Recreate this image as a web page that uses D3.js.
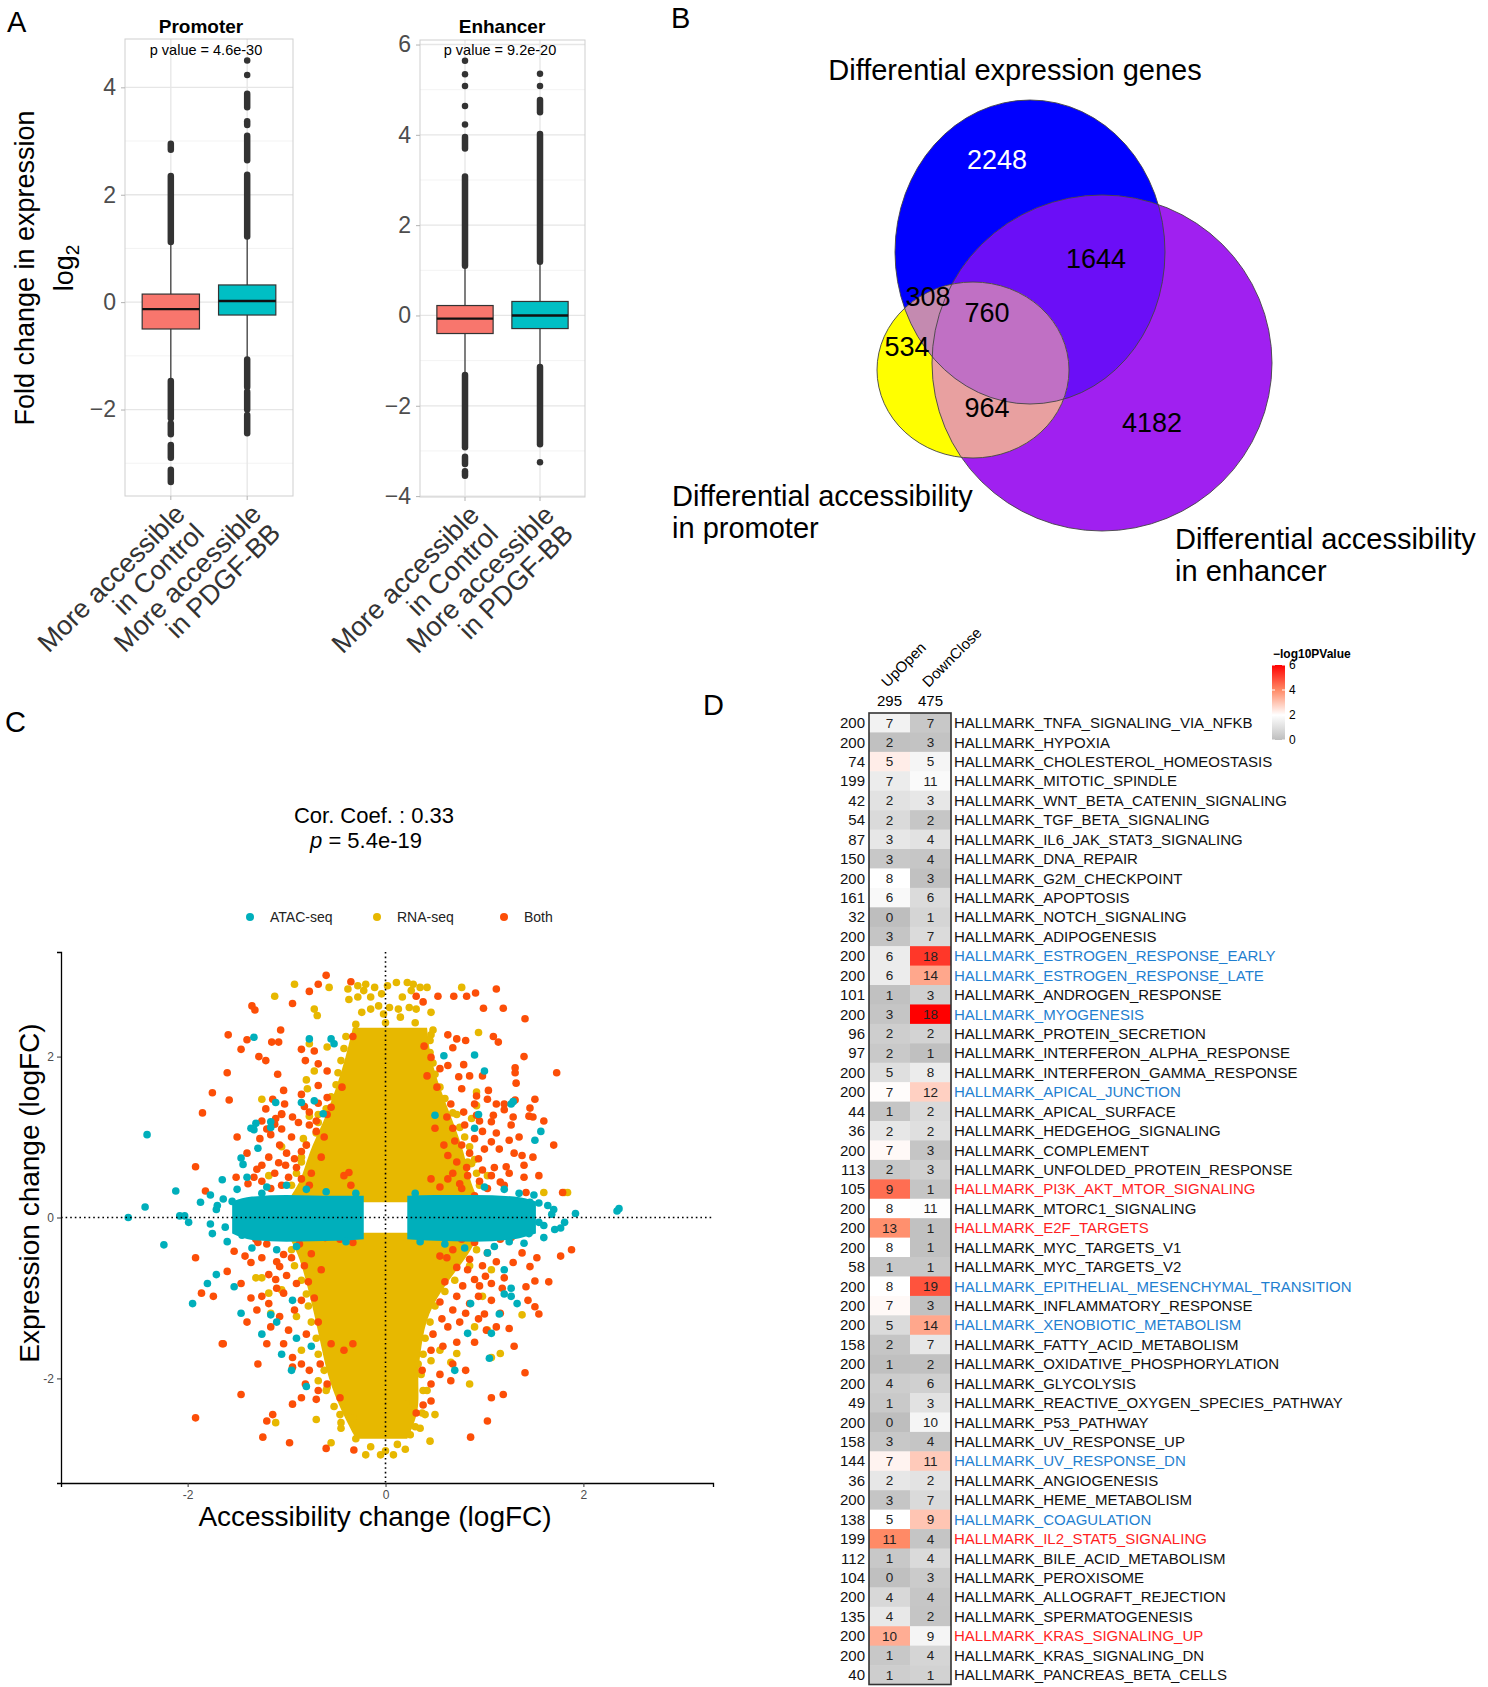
<!DOCTYPE html>
<html>
<head>
<meta charset="utf-8">
<script src="https://cdn.jsdelivr.net/npm/d3@7"></script>
<style>
  body { margin: 0; background: #fff; }
  svg { font-family: "Liberation Sans", Arial, sans-serif; }
</style>
</head>
<body>
<svg id="fig" width="1488" height="1687"></svg>
<script>
const FONT = '"Liberation Sans", Arial, sans-serif';
const svg = d3.select("#fig");

// ---------------- data: panel A (boxplots) ----------------
const boxGroups = ["More accessible\nin Control", "More accessible\nin PDGF-BB"];
const boxColors = ["#F8766D", "#00BFC4"];
// [whisker low, q1, median, q3, whisker high]
const promoterStats = [[-1.45, -0.50, -0.13, 0.15, 1.10], [-1.05, -0.24, 0.02, 0.32, 1.20]];
const enhancerStats = [[-1.30, -0.40, -0.07, 0.22, 1.08], [-1.12, -0.29, 0.00, 0.31, 1.17]];
// outliers as runs [from, to] of stacked dots (single dot when from == to)
const promoterOutliers = [
  [[1.12, 2.35], [2.84, 2.95], [-2.16, -1.47], [-2.46, -2.26], [-2.90, -2.66], [-3.35, -3.12]],
  [[1.22, 2.37], [2.64, 3.10], [3.30, 3.37], [3.63, 3.88], [4.23, 4.23], [4.50, 4.50], [-1.58, -1.07], [-2.00, -1.67], [-2.44, -2.10]]
];
const enhancerOutliers = [
  [[1.10, 3.08], [3.70, 3.95], [4.23, 4.23], [4.64, 4.64], [5.08, 5.08], [5.34, 5.34], [5.64, 5.64], [-2.92, -1.32], [-3.29, -3.13], [-3.55, -3.45]],
  [[1.19, 4.02], [4.50, 4.77], [5.08, 5.08], [5.35, 5.35], [-2.85, -1.14], [-3.25, -3.25]]
];

// ---------------- data: panel B (venn) ----------------
const vennNames = ["Differential expression genes", "Differential accessibility", "in promoter", "Differential accessibility", "in enhancer"];
const vennCounts = { exprOnly: 2248, exprEnh: 1644, exprProm: 308, all3: 760, promOnly: 534, promEnh: 964, enhOnly: 4182 };

// ---------------- data: panel C (scatter) ----------------
const corText = "Cor. Coef. : 0.33";
const pText = "5.4e-19";
// dense RNA-seq core, upper and lower halves: y, left x, right x
const rnaUpY     = [0.19, 0.45, 0.8, 1.2, 1.6, 2.0, 2.36];
const rnaUpLeft  = [-1.0, -0.85, -0.78, -0.62, -0.5, -0.4, -0.33];
const rnaUpRight = [0.95, 0.85, 0.8, 0.68, 0.55, 0.45, 0.42];
const rnaLoY     = [-0.19, -0.45, -0.8, -1.2, -1.6, -2.0, -2.4, -2.75];
const rnaLoLeft  = [-1.0, -0.88, -0.8, -0.72, -0.65, -0.58, -0.45, -0.3];
const rnaLoRight = [0.95, 0.85, 0.62, 0.42, 0.36, 0.32, 0.35, 0.22];
// dense ATAC-seq band: x, top y, bottom y
const atacLeftX   = [-1.55, -1.35, -1.0, -0.5, -0.22];
const atacLeftTop = [0.2, 0.26, 0.28, 0.27, 0.27];
const atacLeftBot = [-0.2, -0.28, -0.3, -0.29, -0.27];
const atacRightX   = [0.22, 0.5, 0.9, 1.3, 1.52];
const atacRightTop = [0.27, 0.28, 0.28, 0.26, 0.2];
const atacRightBot = [-0.27, -0.29, -0.3, -0.27, -0.2];
// scattered points [x, y]
const atacPts = [[-2.6,0],[-2.41,1.03],[-2.43,0.13],[-2.24,-0.34],[-2.12,0.33],[-2.08,0.02],[-2.03,0.02],[-1.99,-0.06],
  [-1.95,-1.07],[-1.87,0.19],[-1.77,0.28],[-1.77,-0.08],[-1.71,0.1],[-1.65,0.47],[-1.64,0.23],[-1.46,0.74],[-1.44,0.66],
  [-1.29,0.86],[-1.4,0.5],[-1.8,-0.82],[-1.71,-0.71],[-1.46,-1.19],[-1.53,-0.86],[-1.36,1.11],[-1.31,1.17],[-1.16,1.19],
  [-1.16,-1.21],[-0.94,-1.03],[1.51,0.96],[1.57,1.07],[1.46,0.19],[1.64,0.15],[1.71,-0.15],[1.77,-0.13],[1.81,-0.06],
  [1.92,0.05],[2.36,0.11],[2.34,0.08],[1.27,-0.98],[1.27,-0.88],[1.33,-1.07],[1.2,-0.65],[1.03,-0.44],[0.9,1.11],[0.94,1.28],
  [0.83,-1.44],[1.07,-1.44],[1.68,0.04],[1.55,-0.06],[-1.33,2.24],[-0.77,2.22],[-0.55,2.22],[-0.52,2.16],[0.59,2.01],
  [0.9,2.02],[1.0,1.82],[1.29,1.44],[1.27,1.41],[-1.11,1.43],[-0.85,1.43],[-0.72,1.45],[-0.63,1.29],[0.5,1.27],[-1.33,1.09],
  [-1.16,1.12],[-1.1,-1.3],[-0.9,-1.5],[-0.75,-1.6],[-1.25,-1.45],[-0.8,-2.1],[-0.95,-1.9],[-1.05,-1.7],[0.86,-1.07],
  [1.15,-1.2],[1.05,-1.75],[1.2,-0.95],[0.7,-1.9],[-1.5,0.35],[-1.2,0.38],[-1.0,0.4],[-0.8,0.35],[-1.35,-0.38],[-1.1,-0.4],
  [-0.9,-0.36],[1.0,0.38],[1.2,0.35],[1.35,0.3],[0.8,-0.38],[1.1,-0.36],[1.4,-0.32],[1.5,0.28],[-1.6,-0.3],[1.6,-0.25],
  [-1.7,0.15],[-1.62,-0.12],[-1.55,0.2],[-1.45,-0.22],[-0.3,0.3],[-0.4,-0.3],[1.55,0.18],[1.6,-0.1],[1.45,-0.2],[0.3,0.3],
  [0.35,-0.3],[-1.75,-0.2],[1.7,0.1],[-0.6,0.32],[0.6,-0.33],[-1.25,0.3],[1.25,-0.3]];
const rnaPts = [[-0.92,2.9],[-1.12,2.75],[-0.57,2.86],[-0.72,2.59],[-0.69,2.51],[-0.38,2.84],[-0.28,2.88],[-0.2,2.9],
  [-0.22,2.82],[-0.11,2.86],[-0.04,2.78],[0.02,2.88],[0.11,2.92],[0.22,2.92],[0.28,2.9],[0.35,2.86],[0.42,2.86],[0.26,2.82],
  [0.17,2.74],[-0.15,2.74],[-0.28,2.74],[-0.37,2.71],[-0.07,2.63],[0.04,2.61],[0.13,2.59],[0.24,2.61],[0.31,2.59],[0.46,2.55],
  [0.77,2.86],[-0.24,2.55],[-0.15,2.59],[-0.02,2.53],[0.15,2.49],[0.94,2.3],[0.46,2.27],[-0.77,2.16],[-0.59,2.12],[-0.72,1.82],
  [-0.8,1.71],[-0.79,1.6],[-1.25,1.47],[0.92,1.56],[0.92,1.39],[-1.18,0.52],[-1.05,0.88],[-0.83,0.98],[-0.77,1.26],
  [-0.68,1.28],[-0.85,0.69],[0.87,0.67],[1.03,0.52],[0.83,0.69],[1.6,0.31],[1.81,0.31],[1.84,0.31],[0.72,1.28],[0.87,1.23],
  [0.68,0.98],[1.07,-0.65],[0.98,-0.98],[1.38,-1.21],[0.9,-1.36],[1.03,-1.4],[1.16,-1.69],[1.07,-1.74],[0.72,-1.69],
  [0.85,-2.07],[0.66,-1.8],[0.46,-1.78],[0.33,-1.82],[0.55,-1.65],[0.42,-2.15],[0.37,-2.43],[0.2,-2.32],[0.28,-2.3],
  [0.5,-2.45],[-0.59,-2.11],[-0.68,-2.03],[-0.42,-2.32],[-0.46,-2.45],[-0.33,-2.49],[-0.7,-2.51],[-1.11,-2.55],[-1.16,-1.19],
  [-1.18,-0.94],[-1.25,-0.75],[-0.9,-1.23],[-0.85,-1.65],[-1.05,-0.9],[-0.79,-0.44],[-1.31,-0.75],[-0.15,-2.85],[0.0,-2.9],
  [0.12,-2.82],[-0.3,-2.75],[0.25,-2.7],[-0.05,-2.95],[0.08,-2.95],[-0.45,-2.62],[0.35,-2.62],[-0.2,-2.95],[0.2,-2.88],
  [-0.55,-2.8],[0.45,-2.78],
  [-0.95,0.4],[-0.9,0.55],[-0.85,0.75],[-0.8,0.9],[-0.7,1.05],[-0.68,1.18],[-0.6,1.35],[-0.55,1.5],[-0.5,1.65],[-0.48,1.8],
  [-0.45,1.95],[-0.42,2.1],[-0.4,2.25],[0.95,0.4],[0.92,0.55],[0.9,0.72],[0.85,0.88],[0.8,1.0],[0.75,1.12],[0.68,1.3],
  [0.6,1.48],[0.55,1.62],[0.5,1.78],[0.48,1.92],[0.45,2.05],[0.45,2.2],[0.48,2.33],[-0.3,2.4],[0.0,2.42],[0.3,2.42],
  [-0.95,-0.4],[-0.92,-0.6],[-0.85,-0.78],[-0.8,-0.95],[-0.78,-1.1],[-0.75,-1.3],[-0.7,-1.5],[-0.68,-1.7],[-0.62,-1.9],
  [-0.6,-2.15],[-0.52,-2.35],[-0.45,-2.55],[0.92,-0.4],[0.85,-0.6],[0.7,-0.78],[0.6,-0.92],[0.5,-1.1],[0.45,-1.3],
  [0.4,-1.5],[0.38,-1.7],[0.36,-1.95],[0.38,-2.15],[0.4,-2.45],[0.3,-2.6]];
const bothPts = [[-0.68,2.9],[-0.77,2.81],[-0.94,2.66],[-1.32,2.58],[0.31,2.75],[0.38,2.68],[0.53,2.75],[0.69,2.75],
  [0.82,2.75],[0.91,2.79],[1.12,2.84],[0.99,2.6],[-1.4,2.21],[-1.46,2.09],[-1.15,2.18],[-1.08,2.18],[-1.21,1.95],[-1.09,1.78],
  [-0.85,2.09],[-0.72,2.07],[-0.81,1.95],[-0.68,1.91],[-0.59,1.82],[-0.33,2.25],[0.39,2.13],[0.63,2.27],[0.72,2.22],[0.81,2.2],
  [0.68,2.11],[1.09,2.25],[1.14,2.18],[1.4,2.0],[1.31,1.86],[1.31,1.8],[0.79,1.9],[0.46,1.99],[0.63,1.89],[0.55,1.85],
  [0.74,1.75],[0.85,1.76],[0.98,1.76],[0.42,1.76],[0.52,1.62],[0.77,1.6],[0.92,1.51],[1.03,1.47],[1.12,1.41],[1.2,1.41],
  [1.04,1.58],[0.9,1.41],[0.66,1.41],[0.79,1.31],[0.92,1.27],[1.09,1.27],[1.45,1.26],[1.49,1.25],[1.29,1.25],[-1.58,1.46],
  [-1.14,1.47],[-1.03,1.58],[-1.02,1.41],[-1.21,1.35],[-1.25,1.2],[-1.05,1.29],[-0.94,1.25],[-0.85,1.53],[-0.68,1.64],
  [-0.59,1.49],[-0.44,1.62],[-0.55,1.37],[-0.77,1.31],[-1.12,1.16],[-1.05,1.1],[-1.92,0.63],[-1.82,0.33],[-1.92,-0.5],
  [-1.86,-0.94],[-1.74,-0.98],[-1.65,-1.57],[-1.92,-2.49],[-1.51,0.5],[-1.39,0.42],[-1.33,0.5],[-1.25,0.65],[-1.27,0.98],
  [-1.11,1.23],[-1.05,1.28],[-1.16,1.03],[-1.07,0.9],[-1.01,0.65],[-0.92,0.73],[-0.85,0.82],[-0.77,1.15],[-0.7,1.07],
  [-0.59,1.28],[-0.85,0.48],[-0.77,0.4],[-0.42,0.52],[-0.35,0.4],[-0.37,0.56],[-1.16,0.36],[-1.05,0.4],[-1.53,-0.42],
  [-1.42,-0.48],[-1.31,-0.27],[-1.2,-0.33],[-1.29,-0.31],[-1.36,-0.56],[-1.6,-0.67],[-1.46,-0.82],[-1.36,-1.0],[-1.18,-0.71],
  [-1.07,-0.61],[-1.11,-0.77],[-1.03,-0.46],[-0.87,-0.33],[-0.77,-0.23],[-0.61,-0.25],[-0.46,-0.27],[-0.33,-0.31],[-1.25,-0.98],
  [-1.18,-1.07],[-1.03,-0.94],[-0.9,-0.82],[-0.85,-1.03],[-1.07,-1.23],[-1.16,-1.36],[-1.2,-1.57],[-1.03,-1.57],[-0.94,-1.74],
  [-0.85,-1.82],[-0.77,-1.9],[-0.66,-1.82],[-0.55,-1.57],[-0.42,-1.65],[-0.33,-1.57],[-0.94,-1.86],[-1.29,-1.82],[-0.81,-2.07],
  [-0.68,-2.15],[-0.59,-2.07],[-0.94,-2.32],[-0.85,-2.24],[-1.2,-2.53],[-1.14,-2.45],[-0.7,-2.26],[-0.46,-2.24],[-1.64,-1.57],
  [0.55,-0.48],[0.68,-0.4],[0.77,-0.27],[0.9,-0.31],[1.03,-0.44],[1.16,-0.27],[1.27,-0.25],[1.38,-0.44],[1.53,-0.5],
  [1.77,-0.48],[1.88,-0.4],[1.29,-0.56],[1.46,-0.61],[1.51,-0.79],[1.42,-0.86],[1.44,-1.03],[1.51,-1.11],[1.18,-0.88],
  [1.07,-0.82],[1.01,-0.73],[0.9,-0.77],[0.83,-0.65],[0.72,-0.98],[0.85,-1.07],[0.94,-0.98],[1.07,-1.03],[1.16,-1.19],
  [1.25,-1.38],[1.12,-1.36],[0.94,-1.26],[0.81,-1.19],[0.68,-1.15],[0.63,-1.36],[0.72,-1.55],[0.57,-1.26],[0.46,-1.65],
  [0.68,-1.82],[0.55,-1.95],[0.46,-2.07],[0.81,-1.9],[0.66,-2.03],[0.37,-1.9],[1.07,-2.24],[0.46,-2.28],[0.31,-2.43],
  [0.46,0.48],[0.63,0.77],[0.77,0.9],[0.9,0.98],[0.98,1.07],[1.07,1.19],[1.2,1.34],[1.31,1.46],[1.46,1.36],[1.27,1.15],
  [1.25,0.96],[1.07,0.94],[0.94,0.73],[0.98,0.59],[1.07,0.52],[1.16,0.44],[1.22,0.63],[1.38,0.77],[1.49,0.75],[1.4,0.5],
  [1.55,0.52],[1.42,0.31],[1.79,0.31],[0.83,0.52],[0.72,0.69],[0.63,0.48],[0.55,0.38],[0.77,0.36],[0.9,0.27],[1.03,0.36],
  [0.68,1.11],[0.5,1.11],[0.59,0.9],[-1.35,2.63],[-1.59,2.27],[-1.28,2.0],[-1.06,2.33],[-1.6,1.8],[-1.75,1.55],[-1.85,1.3],
  [1.41,2.47],[1.19,2.6],[1.73,1.8],[1.51,1.47],[1.32,1.67],[1.6,1.2],[1.7,0.9],[1.41,-1.93],[1.19,-2.2],[1.03,-2.53],
  [0.86,-2.73],[1.3,-1.6],[1.55,-1.2],[1.65,-0.8],[-1.46,-2.2],[-1.24,-2.73],[-0.97,-2.8],[-0.6,-2.87],[-0.32,-2.89],
  [-0.6,3.01],[-0.35,2.93],[0.38,-2.33],
  [-1.25,0.45],[-1.12,0.55],[-0.98,0.5],[-0.9,0.62],[-1.18,0.75],[-1.0,0.8],[-0.8,0.9],[-0.95,1.0],[-1.2,1.1],[-0.88,1.18],
  [-0.7,1.2],[-1.3,0.6],[-0.75,0.55],[-0.65,0.75],[-1.08,0.68],[-1.4,0.8],[-1.5,1.0],[-0.62,1.0],[-0.82,1.38],[-0.68,1.42],
  [0.68,0.55],[0.82,0.62],[0.95,0.45],[1.1,0.62],[1.25,0.55],[1.3,0.8],[1.15,0.85],[0.85,0.8],[0.7,0.95],[1.0,0.85],
  [1.12,1.05],[0.8,1.15],[1.35,1.0],[0.95,1.2],[0.62,1.25],[1.4,0.65],[0.75,0.42],[1.2,0.4],
  [-1.25,-0.5],[-1.1,-0.55],[-0.95,-0.5],[-0.82,-0.6],[-1.0,-0.72],[-0.78,-0.8],[-0.92,-1.15],[-1.1,-0.88],[-0.72,-1.0],
  [-0.68,-1.3],[-0.98,-1.4],[-0.8,-1.45],[-1.3,-1.15],[-1.4,-1.3],[-0.75,-0.45],[-0.65,-0.65],
  [0.62,-0.5],[0.72,-0.62],[0.85,-0.52],[0.98,-0.6],[1.12,-0.55],[1.2,-0.75],[0.95,-0.85],[0.78,-0.85],[0.6,-0.8],
  [0.55,-1.05],[0.75,-1.3],[1.0,-1.2],[0.48,-1.45],[0.9,-1.55],[1.02,-1.4],[0.58,-1.6]];

// ---------------- data: panel D (heatmap) ----------------
const hmSets = ["HALLMARK_TNFA_SIGNALING_VIA_NFKB","HALLMARK_HYPOXIA","HALLMARK_CHOLESTEROL_HOMEOSTASIS","HALLMARK_MITOTIC_SPINDLE",
  "HALLMARK_WNT_BETA_CATENIN_SIGNALING","HALLMARK_TGF_BETA_SIGNALING","HALLMARK_IL6_JAK_STAT3_SIGNALING","HALLMARK_DNA_REPAIR",
  "HALLMARK_G2M_CHECKPOINT","HALLMARK_APOPTOSIS","HALLMARK_NOTCH_SIGNALING","HALLMARK_ADIPOGENESIS","HALLMARK_ESTROGEN_RESPONSE_EARLY",
  "HALLMARK_ESTROGEN_RESPONSE_LATE","HALLMARK_ANDROGEN_RESPONSE","HALLMARK_MYOGENESIS","HALLMARK_PROTEIN_SECRETION",
  "HALLMARK_INTERFERON_ALPHA_RESPONSE","HALLMARK_INTERFERON_GAMMA_RESPONSE","HALLMARK_APICAL_JUNCTION","HALLMARK_APICAL_SURFACE",
  "HALLMARK_HEDGEHOG_SIGNALING","HALLMARK_COMPLEMENT","HALLMARK_UNFOLDED_PROTEIN_RESPONSE","HALLMARK_PI3K_AKT_MTOR_SIGNALING",
  "HALLMARK_MTORC1_SIGNALING","HALLMARK_E2F_TARGETS","HALLMARK_MYC_TARGETS_V1","HALLMARK_MYC_TARGETS_V2",
  "HALLMARK_EPITHELIAL_MESENCHYMAL_TRANSITION","HALLMARK_INFLAMMATORY_RESPONSE","HALLMARK_XENOBIOTIC_METABOLISM",
  "HALLMARK_FATTY_ACID_METABOLISM","HALLMARK_OXIDATIVE_PHOSPHORYLATION","HALLMARK_GLYCOLYSIS","HALLMARK_REACTIVE_OXYGEN_SPECIES_PATHWAY",
  "HALLMARK_P53_PATHWAY","HALLMARK_UV_RESPONSE_UP","HALLMARK_UV_RESPONSE_DN","HALLMARK_ANGIOGENESIS","HALLMARK_HEME_METABOLISM",
  "HALLMARK_COAGULATION","HALLMARK_IL2_STAT5_SIGNALING","HALLMARK_BILE_ACID_METABOLISM","HALLMARK_PEROXISOME",
  "HALLMARK_ALLOGRAFT_REJECTION","HALLMARK_SPERMATOGENESIS","HALLMARK_KRAS_SIGNALING_UP","HALLMARK_KRAS_SIGNALING_DN",
  "HALLMARK_PANCREAS_BETA_CELLS"];
const hmSetSize = [200,200,74,199,42,54,87,150,200,161,32,200,200,200,101,200,96,97,200,200,44,36,200,113,105,200,200,200,58,200,
  200,200,158,200,200,49,200,158,144,36,200,138,199,112,104,200,135,200,200,40];
const hmColumns = ["UpOpen", "DownClose"];
const hmColumnTotals = [295, 475];
const upOpenN = [7,2,5,7,2,2,3,3,8,6,0,3,6,6,1,3,2,2,5,7,1,2,7,2,9,8,13,8,1,8,7,5,2,1,4,1,0,3,7,2,3,5,11,1,0,4,4,10,1,1];
const downCloseN = [7,3,5,11,3,2,4,4,3,6,1,7,18,14,3,18,2,1,8,12,2,2,3,3,1,11,1,1,1,19,3,14,7,2,6,3,10,4,11,2,7,9,4,4,3,4,2,9,4,1];
// -log10 p-values
const upOpenP = [1.6,0.1,2.3,1.4,1.1,0.85,1.25,0.3,2.0,1.8,0,0.2,1.4,1.4,0.1,0.2,0.5,0.35,1.0,2.05,0.2,1.25,2.1,0.3,4.4,2.0,3.9,2.0,
  0.3,2.0,2.1,0.9,0.2,0.05,0.45,0.35,0,0.3,2.2,1.25,0.2,2.0,4.0,0.3,0.05,0.8,1.3,3.4,0.3,0.5];
const downCloseP = [0.3,0.15,1.7,1.85,1.25,0.25,1.1,0.25,0.1,0.9,0.7,0.9,5.2,3.5,0.55,6.0,0.65,0.05,1.4,2.8,0.85,1.0,0.2,0.55,0.2,
  1.95,0.1,0.1,0.3,4.8,0.1,3.5,1.25,0.1,0.55,1.1,1.7,0.2,2.9,1.15,0.85,3.0,0.2,0.85,0.4,0.25,0.2,1.7,0.7,0.6];
const blueSets = ["HALLMARK_ESTROGEN_RESPONSE_EARLY","HALLMARK_ESTROGEN_RESPONSE_LATE","HALLMARK_MYOGENESIS","HALLMARK_APICAL_JUNCTION",
  "HALLMARK_EPITHELIAL_MESENCHYMAL_TRANSITION","HALLMARK_XENOBIOTIC_METABOLISM","HALLMARK_UV_RESPONSE_DN","HALLMARK_COAGULATION"];
const redSets = ["HALLMARK_PI3K_AKT_MTOR_SIGNALING","HALLMARK_E2F_TARGETS","HALLMARK_IL2_STAT5_SIGNALING","HALLMARK_KRAS_SIGNALING_UP"];
const legendTicks = [0, 2, 4, 6];

// ---------------- panel letters ----------------
[["A", 7, 32], ["B", 671, 28], ["C", 5, 732], ["D", 703, 715]].forEach(d => {
  svg.append("text").attr("x", d[1]).attr("y", d[2]).attr("font-size", 29).text(d[0]);
});

// ---------------- Panel A ----------------
function drawBoxPanel(p) {
  const g = svg.append("g");
  const y = d3.scaleLinear().domain(p.domain).range([p.bottom, p.top]);
  const x = d3.scaleLinear().domain([0.4, 2.6]).range([p.left, p.right]);
  const bw = x(1.75) - x(1);   // box width 0.75 of a category

  // grid
  g.selectAll(".minor").data(p.minor).enter().append("line")
    .attr("x1", p.left).attr("x2", p.right).attr("y1", d => y(d)).attr("y2", d => y(d))
    .attr("stroke", "#F3F3F3").attr("stroke-width", 1);
  g.selectAll(".major").data(p.ticks).enter().append("line")
    .attr("x1", p.left).attr("x2", p.right).attr("y1", d => y(d)).attr("y2", d => y(d))
    .attr("stroke", "#E6E6E6").attr("stroke-width", 1.3);
  g.selectAll(".vgrid").data([1, 2]).enter().append("line")
    .attr("x1", d => x(d)).attr("x2", d => x(d)).attr("y1", p.top).attr("y2", p.bottom)
    .attr("stroke", "#E6E6E6").attr("stroke-width", 1.3);
  g.append("rect").attr("x", p.left).attr("y", p.top)
    .attr("width", p.right - p.left).attr("height", p.bottom - p.top)
    .attr("fill", "none").attr("stroke", "#CFCFCF").attr("stroke-width", 1);

  p.stats.forEach((s, i) => {
    const cx = x(i + 1);
    g.append("line").attr("x1", cx).attr("x2", cx).attr("y1", y(s[0])).attr("y2", y(s[4]))
      .attr("stroke", "#333").attr("stroke-width", 1.2);
    // outliers
    g.selectAll(".out" + i).data(p.outliers[i]).enter().append("line")
      .attr("x1", cx).attr("x2", cx).attr("y1", d => y(d[0])).attr("y2", d => y(d[1]))
      .attr("stroke", "#333").attr("stroke-width", 6.5).attr("stroke-linecap", "round");
    g.append("rect").attr("x", cx - bw / 2).attr("width", bw)
      .attr("y", y(s[3])).attr("height", y(s[1]) - y(s[3]))
      .attr("fill", boxColors[i]).attr("stroke", "#333").attr("stroke-width", 1.2);
    g.append("line").attr("x1", cx - bw / 2).attr("x2", cx + bw / 2).attr("y1", y(s[2])).attr("y2", y(s[2]))
      .attr("stroke", "#111").attr("stroke-width", 2.4);

    // x tick + label
    g.append("line").attr("x1", cx).attr("x2", cx).attr("y1", p.bottom).attr("y2", p.bottom + 4)
      .attr("stroke", "#B3B3B3");
    const lab = g.append("text")
      .attr("transform", `translate(${cx + 2},${p.bottom + 6}) rotate(-45)`)
      .attr("text-anchor", "end").attr("font-size", 27).attr("fill", "#333");
    boxGroups[i].split("\n").forEach((t, k) => {
      lab.append("tspan").attr("x", 0).attr("dy", k === 0 ? "0.72em" : "1.0em").text(t);
    });
  });

  const ax = g.append("g").attr("transform", `translate(${p.left},0)`)
    .call(d3.axisLeft(y).tickValues(p.ticks).tickSize(4).tickPadding(5));
  ax.select(".domain").remove();
  ax.selectAll("line").attr("stroke", "#B3B3B3");
  ax.selectAll("text").attr("font-size", 23).attr("fill", "#4D4D4D").attr("font-family", FONT);

  g.append("text").attr("x", p.titleX).attr("y", 33).attr("text-anchor", "middle")
    .attr("font-size", 19).attr("font-weight", "bold").text(p.title);
  g.append("text").attr("x", p.pX).attr("y", 55).attr("text-anchor", "middle")
    .attr("font-size", 14.5).text(p.pLabel);
}

drawBoxPanel({
  title: "Promoter", pLabel: "p value = 4.6e-30", titleX: 201, pX: 206,
  left: 125, right: 293, top: 39, bottom: 496, domain: [-3.61, 4.90],
  ticks: [-2, 0, 2, 4], minor: [-3, -1, 1, 3],
  stats: promoterStats, outliers: promoterOutliers
});
drawBoxPanel({
  title: "Enhancer", pLabel: "p value = 9.2e-20", titleX: 502, pX: 500,
  left: 420, right: 585, top: 40, bottom: 497, domain: [-4.02, 6.10],
  ticks: [-4, -2, 0, 2, 4, 6], minor: [-3, -1, 1, 3, 5],
  stats: enhancerStats, outliers: enhancerOutliers
});

// y axis title of panel A
const yTitleA = svg.append("text").attr("transform", "translate(34,268) rotate(-90)")
  .attr("text-anchor", "middle").attr("font-size", 27);
yTitleA.append("tspan").attr("x", 0).attr("dy", 0).text("Fold change in expression");
const logLine = yTitleA.append("tspan").attr("x", 0).attr("dy", "1.45em").text("log");
logLine.append("tspan").attr("font-size", 19).attr("dy", "0.3em").text("2");

// ---------------- Panel B (venn) ----------------
const venn = svg.append("g");
const ellBlue = { cx: 1030, cy: 252, rx: 135, ry: 152 };
const ellPurple = { cx: 1102, cy: 363, rx: 170, ry: 168 };
const ellYellow = { cx: 973, cy: 370, rx: 96, ry: 88 };
const defs = svg.append("defs");
[["clipBlue", ellBlue], ["clipPurple", ellPurple]].forEach(([id, e]) => {
  defs.append("clipPath").attr("id", id).append("ellipse")
    .attr("cx", e.cx).attr("cy", e.cy).attr("rx", e.rx).attr("ry", e.ry);
});
function ell(parent, e, fill, clip) {
  const el = parent.append("ellipse").attr("cx", e.cx).attr("cy", e.cy).attr("rx", e.rx).attr("ry", e.ry)
    .attr("fill", fill);
  if (clip) el.attr("clip-path", `url(#${clip})`);
  return el;
}
ell(venn, ellBlue, "#0000FF");
ell(venn, ellPurple, "#A020F0");
ell(venn, ellPurple, "#6B0EF7", "clipBlue");
ell(venn, ellYellow, "#FFFF00");
ell(venn, ellYellow, "#C48AB0", "clipBlue");
ell(venn, ellYellow, "#E8A0A0", "clipPurple");
ell(venn.append("g").attr("clip-path", "url(#clipBlue)"), ellYellow, "#C070C4", "clipPurple");
[ellBlue, ellPurple, ellYellow].forEach(e => ell(venn, e, "none").attr("stroke", "#444").attr("stroke-width", 0.9));

const vennLabels = [
  [vennCounts.exprOnly, 997, 159, "#fff"], [vennCounts.exprEnh, 1096, 258, "#000"],
  [vennCounts.exprProm, 928, 296, "#000"], [vennCounts.all3, 987, 312, "#000"],
  [vennCounts.promOnly, 907, 346, "#000"], [vennCounts.promEnh, 987, 407, "#000"],
  [vennCounts.enhOnly, 1152, 422, "#000"]
];
venn.selectAll(".vn").data(vennLabels).enter().append("text")
  .attr("x", d => d[1]).attr("y", d => d[2]).attr("dy", "0.36em").attr("text-anchor", "middle")
  .attr("font-size", 27).attr("fill", d => d[3]).text(d => d[0]);
venn.append("text").attr("x", 1015).attr("y", 80).attr("text-anchor", "middle").attr("font-size", 29).text(vennNames[0]);
venn.append("text").attr("x", 672).attr("y", 506).attr("font-size", 29).text(vennNames[1]);
venn.append("text").attr("x", 672).attr("y", 538).attr("font-size", 29).text(vennNames[2]);
venn.append("text").attr("x", 1175).attr("y", 549).attr("font-size", 29).text(vennNames[3]);
venn.append("text").attr("x", 1175).attr("y", 581).attr("font-size", 29).text(vennNames[4]);

// ---------------- Panel C (scatter) ----------------
const colAtac = "#00AFBB", colRna = "#E7B800", colBoth = "#FC4E07";
const xC = d3.scaleLinear().domain([-3.28, 3.31]).range([61, 713]);
const yC = d3.scaleLinear().domain([-3.3, 3.3]).range([1483, 952]);
const gC = svg.append("g");
const R = 3.8;

gC.append("text").attr("x", 374).attr("y", 823).attr("text-anchor", "middle").attr("font-size", 22).text(corText);
const pLine = gC.append("text").attr("x", 366).attr("y", 848).attr("text-anchor", "middle").attr("font-size", 22);
pLine.append("tspan").attr("font-style", "italic").text("p");
pLine.append("tspan").text(" = " + pText);

const legendItems = [["ATAC-seq", colAtac, 250], ["RNA-seq", colRna, 377], ["Both", colBoth, 504]];
legendItems.forEach(d => {
  gC.append("circle").attr("cx", d[2]).attr("cy", 917).attr("r", 4).attr("fill", d[1]);
  gC.append("text").attr("x", d[2] + 20).attr("y", 917).attr("dy", "0.35em").attr("font-size", 14).attr("fill", "#222").text(d[0]);
});

const vArea = d3.area().curve(d3.curveBasis)
  .y(d => yC(d[0])).x0(d => xC(d[1])).x1(d => xC(d[2]));
const hArea = d3.area().curve(d3.curveMonotoneX)
  .x(d => xC(d[0])).y0(d => yC(d[2])).y1(d => yC(d[1]));

gC.append("path").datum(d3.zip(rnaUpY, rnaUpLeft, rnaUpRight)).attr("d", vArea).attr("fill", colRna);
gC.append("path").datum(d3.zip(rnaLoY, rnaLoLeft, rnaLoRight)).attr("d", vArea).attr("fill", colRna);
gC.selectAll(".rna").data(rnaPts).enter().append("circle")
  .attr("cx", d => xC(d[0])).attr("cy", d => yC(d[1])).attr("r", R).attr("fill", colRna);
gC.selectAll(".both").data(bothPts).enter().append("circle")
  .attr("cx", d => xC(d[0])).attr("cy", d => yC(d[1])).attr("r", R).attr("fill", colBoth);
gC.append("path").datum(d3.zip(atacLeftX, atacLeftTop, atacLeftBot)).attr("d", hArea).attr("fill", colAtac);
gC.append("path").datum(d3.zip(atacRightX, atacRightTop, atacRightBot)).attr("d", hArea).attr("fill", colAtac);
gC.selectAll(".atac").data(atacPts).enter().append("circle")
  .attr("cx", d => xC(d[0])).attr("cy", d => yC(d[1])).attr("r", R).attr("fill", colAtac);

// zero reference lines
gC.append("line").attr("x1", xC(0)).attr("x2", xC(0)).attr("y1", yC(3.3)).attr("y2", yC(-3.3))
  .attr("stroke", "#000").attr("stroke-width", 1.6).attr("stroke-dasharray", "1.6,3");
gC.append("line").attr("x1", xC(-3.28)).attr("x2", xC(3.31)).attr("y1", yC(0)).attr("y2", yC(0))
  .attr("stroke", "#000").attr("stroke-width", 1.6).attr("stroke-dasharray", "1.6,3");

const axL = gC.append("g").attr("transform", `translate(${xC.range()[0]},0)`)
  .call(d3.axisLeft(yC).tickValues([-2, 0, 2]).tickFormat(d => String(d)).tickSize(4).tickPadding(3));
const axB = gC.append("g").attr("transform", `translate(0,${yC.range()[0]})`)
  .call(d3.axisBottom(xC).tickValues([-2, 0, 2]).tickFormat(d => String(d)).tickSize(4).tickPadding(3));
[axL, axB].forEach(a => {
  a.select(".domain").attr("stroke", "#000").attr("stroke-width", 1.3);
  a.selectAll("line").attr("stroke", "#333");
  a.selectAll("text").attr("font-size", 12).attr("fill", "#4D4D4D").attr("font-family", FONT);
});
gC.append("text").attr("x", 375).attr("y", 1526).attr("text-anchor", "middle").attr("font-size", 28)
  .text("Accessibility change (logFC)");
gC.append("text").attr("transform", "translate(39,1193) rotate(-90)").attr("text-anchor", "middle")
  .attr("font-size", 28).text("Expression change (logFC)");

// ---------------- Panel D (heatmap) ----------------
const gD = svg.append("g");
const xD = d3.scaleBand().domain(hmColumns).range([869, 951]);
const yD = d3.scaleBand().domain(hmSets).range([713, 1684.5]);
const hmColor = d3.scaleLinear().domain([0, 2, 4, 6]).range(["#bebebe", "#ffffff", "#ff8a66", "#ff0000"]).clamp(true);

const cells = [];
hmSets.forEach((s, i) => {
  cells.push({ set: s, col: "UpOpen", n: upOpenN[i], p: upOpenP[i] });
  cells.push({ set: s, col: "DownClose", n: downCloseN[i], p: downCloseP[i] });
});
gD.selectAll(".cell").data(cells).enter().append("rect")
  .attr("x", d => xD(d.col)).attr("y", d => yD(d.set))
  .attr("width", xD.bandwidth()).attr("height", yD.bandwidth() + 0.5)
  .attr("fill", d => hmColor(d.p));
gD.selectAll(".cellTxt").data(cells).enter().append("text")
  .attr("x", d => xD(d.col) + xD.bandwidth() / 2).attr("y", d => yD(d.set) + yD.bandwidth() / 2)
  .attr("dy", "0.36em").attr("text-anchor", "middle").attr("font-size", 13.5).attr("fill", "#222")
  .text(d => d.n);
gD.append("rect").attr("x", 869).attr("y", 713).attr("width", 82).attr("height", 1684.5 - 713)
  .attr("fill", "none").attr("stroke", "#333").attr("stroke-width", 1.6);

gD.selectAll(".size").data(hmSets).enter().append("text")
  .attr("x", 865).attr("y", d => yD(d) + yD.bandwidth() / 2).attr("dy", "0.36em")
  .attr("text-anchor", "end").attr("font-size", 15).attr("fill", "#111")
  .text((d, i) => hmSetSize[i]);
gD.selectAll(".name").data(hmSets).enter().append("text")
  .attr("x", 954).attr("y", d => yD(d) + yD.bandwidth() / 2).attr("dy", "0.36em")
  .attr("font-size", 15)
  .attr("fill", d => blueSets.includes(d) ? "#1F7FD0" : (redSets.includes(d) ? "#FF1F1F" : "#111"))
  .text(d => d);

hmColumns.forEach((c, i) => {
  const cx = xD(c) + xD.bandwidth() / 2;
  gD.append("text").attr("x", cx).attr("y", 706).attr("text-anchor", "middle").attr("font-size", 15).text(hmColumnTotals[i]);
  gD.append("text").attr("transform", `translate(${cx - 2},688) rotate(-45)`).attr("font-size", 15).text(c);
});

// colour legend
const lgY = d3.scaleLinear().domain([0, 6]).range([740, 665]);
const grad = defs.append("linearGradient").attr("id", "hmGrad").attr("x1", 0).attr("x2", 0).attr("y1", 1).attr("y2", 0);
d3.range(0, 6.01, 0.5).forEach(v => grad.append("stop").attr("offset", v / 6).attr("stop-color", hmColor(v)));
gD.append("rect").attr("x", 1272).attr("y", 665).attr("width", 13).attr("height", 75).attr("fill", "url(#hmGrad)");
gD.selectAll(".lgTick").data(legendTicks).enter().append("line")
  .attr("x1", 1272).attr("x2", 1275).attr("y1", d => lgY(d)).attr("y2", d => lgY(d)).attr("stroke", "#fff");
gD.selectAll(".lgTick2").data(legendTicks).enter().append("line")
  .attr("x1", 1282).attr("x2", 1285).attr("y1", d => lgY(d)).attr("y2", d => lgY(d)).attr("stroke", "#fff");
gD.selectAll(".lgLab").data(legendTicks).enter().append("text")
  .attr("x", 1289).attr("y", d => lgY(d)).attr("dy", "0.36em").attr("font-size", 12).text(d => d);
gD.append("text").attr("x", 1273).attr("y", 658).attr("font-size", 12).attr("font-weight", "bold").text("\u2212log10PValue");
</script>
</body>
</html>
